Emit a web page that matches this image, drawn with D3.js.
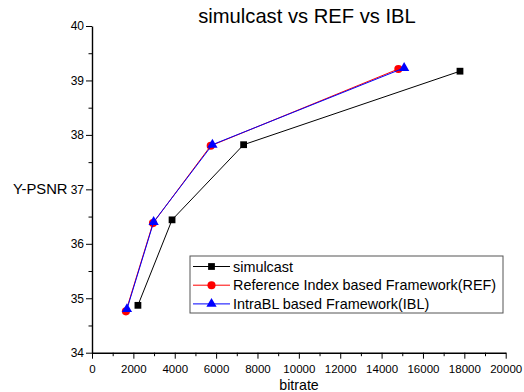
<!DOCTYPE html>
<html>
<head>
<meta charset="utf-8">
<script src="https://cdn.jsdelivr.net/npm/d3@7"></script>
<style>
  body { margin: 0; background: #fff; }
  text { font-family: "Liberation Sans", Arial, sans-serif; }
</style>
</head>
<body>
<div id="chart"></div>
<script>
// values
var simulcastX = [2220, 3870, 7330, 17790];
var simulcastY = [34.87, 36.44, 37.82, 39.17];
var refX = [1640, 2950, 5740, 14810];
var refY = [34.76, 36.38, 37.80, 39.21];
var iblX = [1690, 2980, 5820, 15090];
var iblY = [34.80, 36.40, 37.82, 39.23];
var seriesNames = ["simulcast", "Reference Index based Framework(REF)", "IntraBL based Framework(IBL)"];
var xTicks = [0, 2000, 4000, 6000, 8000, 10000, 12000, 14000, 16000, 18000, 20000];
var yTicks = [34, 35, 36, 37, 38, 39, 40];

var series = [
  { name: seriesNames[0], xs: simulcastX, ys: simulcastY, color: "#000000", symbol: d3.symbolSquare, size: 46 },
  { name: seriesNames[1], xs: refX, ys: refY, color: "#ff0000", symbol: d3.symbolCircle, size: 52 },
  { name: seriesNames[2], xs: iblX, ys: iblY, color: "#0000ff", symbol: d3.symbolTriangle, size: 46 }
];

const width = 524, height = 392;
const svg = d3.select("#chart").append("svg")
  .attr("width", width)
  .attr("height", height);

const x = d3.scaleLinear().domain([0, 20000]).range([92, 505.7]);
const y = d3.scaleLinear().domain([34, 40]).range([352.7, 26]);

// minor ticks first
svg.append("g")
  .attr("transform", `translate(0,${y(34)})`)
  .call(d3.axisBottom(x).tickValues(d3.range(1000, 20000, 2000)).tickSize(3.5).tickFormat(""))
  .call(g => g.select(".domain").remove());
svg.append("g")
  .attr("transform", `translate(${x(0)},0)`)
  .call(d3.axisLeft(y).tickValues(d3.range(34.5, 40, 1)).tickSize(3.5).tickFormat(""))
  .call(g => g.select(".domain").remove());

const xAxis = svg.append("g")
  .attr("transform", `translate(0,${y(34)})`)
  .call(d3.axisBottom(x).tickValues(xTicks).tickSize(6).tickSizeOuter(0).tickFormat(d3.format("d")));
xAxis.selectAll("text").attr("font-size", 11.5).attr("y", 20.6).attr("dy", 0).attr("fill", "#000");

const yAxis = svg.append("g")
  .attr("transform", `translate(${x(0)},0)`)
  .call(d3.axisLeft(y).tickValues(yTicks).tickSize(6).tickSizeOuter(0).tickFormat(d3.format("d")));
yAxis.selectAll("text").attr("font-size", 12).attr("x", -8).attr("fill", "#000");

svg.selectAll(".domain").attr("stroke", "#000").attr("stroke-width", 1.4);
svg.selectAll(".tick line").attr("stroke", "#000").attr("stroke-width", 1);

const line = d3.line().x(d => x(d[0])).y(d => y(d[1]));

series.forEach(s => {
  const pts = s.xs.map((v, i) => [v, s.ys[i]]);
  svg.append("path")
    .attr("d", line(pts))
    .attr("fill", "none")
    .attr("stroke", s.color)
    .attr("stroke-width", 1);
  svg.append("g").selectAll("path")
    .data(pts)
    .enter()
    .append("path")
    .attr("d", d3.symbol().type(s.symbol).size(s.size))
    .attr("transform", d => `translate(${x(d[0])},${y(d[1])})`)
    .attr("fill", s.color);
});

// title and axis labels
svg.append("text").text("simulcast vs REF vs IBL")
  .attr("x", 307).attr("y", 23).attr("text-anchor", "middle").attr("font-size", 20.2);
svg.append("text").text("Y-PSNR")
  .attr("x", 13).attr("y", 194).attr("font-size", 14.8);
svg.append("text").text("bitrate")
  .attr("x", 299).attr("y", 389.5).attr("text-anchor", "middle").attr("font-size", 14.2);

// legend
const legend = svg.append("g");
legend.append("rect")
  .attr("x", 190).attr("y", 256).attr("width", 313).attr("height", 57)
  .attr("fill", "#fff").attr("stroke", "#555").attr("stroke-width", 1);
series.forEach((s, i) => {
  const ly = 266.5 + i * 18.7;
  legend.append("line")
    .attr("x1", 193).attr("x2", 230).attr("y1", ly).attr("y2", ly)
    .attr("stroke", s.color).attr("stroke-width", 1);
  legend.append("path")
    .attr("d", d3.symbol().type(s.symbol).size(s.size))
    .attr("transform", `translate(211.5,${ly})`)
    .attr("fill", s.color);
  legend.append("text").text(s.name)
    .attr("x", 233).attr("y", ly).attr("dy", "0.36em").attr("font-size", 14.4);
});
</script>
</body>
</html>
